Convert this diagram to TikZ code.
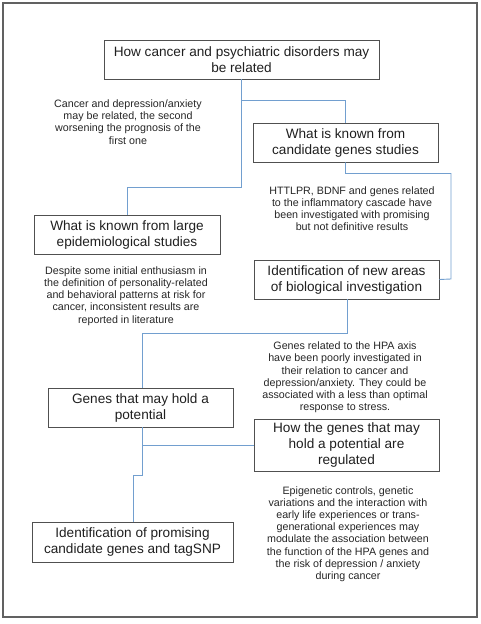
\documentclass[tikz,border=0pt]{standalone}
\usepackage{fontspec}
\setmainfont{Liberation Sans}
\usetikzlibrary{positioning}
\definecolor{linkblue}{HTML}{729FCF}
\definecolor{boxgray}{HTML}{505050}

\begin{document}
\begin{tikzpicture}[x=1pt,y=-1pt,
  main box/.style={rectangle,draw=boxgray,line width=0.9pt,align=center,inner sep=0pt,
    font=\fontsize{13.6}{16}\selectfont,text=black!88},
  note/.style={align=center,inner sep=0pt,font=\fontsize{10.7}{12.2}\selectfont,text=black!85},
  link/.style={draw=linkblue,line width=0.9pt}]

  \useasboundingbox (0,0) rectangle (481,624);
  \draw[boxgray!90,line width=1.3pt] (3,3) rectangle (477,617);

  % boxes
  \node[main box,minimum width=275pt,minimum height=39pt] (1) at (241.5,59.5)
    {How cancer and psychiatric disorders may\\be related};
  \node[main box,minimum width=185pt,minimum height=39pt] (2) at (345.5,142.5)
    {What is known from\\candidate genes studies};
  \node[main box,minimum width=186pt,minimum height=39pt] (3) at (127,234.5)
    {What is known from large\\epidemiological studies};
  \node[main box,minimum width=185pt,minimum height=39pt] (4) at (346.5,279.5)
    {Identification of new areas\\of biological investigation};
  \node[main box,minimum width=185pt,minimum height=39pt] (5) at (140.5,407.5)
    {Genes that may hold a\\potential};
  \node[main box,minimum width=185pt,minimum height=52pt] (6) at (346.5,445)
    {How the genes that may\\hold a potential are\\regulated};
  \node[main box,minimum width=201pt,minimum height=40pt] (7) at (132.5,542)
    {Identification of promising\\candidate genes and tagSNP};

  % notes
  \node[note] (t1) at (128,122)
    {Cancer and depression/anxiety\\may be related, the second\\worsening the prognosis of the\\first one};
  \node[note] (t2) at (352,208.5)
    {HTTLPR, BDNF and genes related\\to the inflammatory cascade have\\been investigated with promising\\but not definitive results};
  \node[note] (t3) at (126,296)
    {Despite some initial enthusiasm in\\the definition of personality-related\\and behavioral patterns at risk for\\cancer, inconsistent results are\\reported in literature};
  \node[note] (t4) at (345,377.5)
    {Genes related to the HPA axis\\have been poorly investigated in\\their relation to cancer and\\depression/anxiety. They could be\\associated with a less than optimal\\response to stress.};
  \node[note] (t5) at (348,534)
    {Epigenetic controls, genetic\\variations and the interaction with\\early life experiences or trans-\\generational experiences may\\modulate the association between\\the function of the HPA genes and\\the risk of depression / anxiety\\during cancer};

  % connectors
  \draw[link] (1.south) -- ++(0,21) -| (2.north);
  \draw[link] (1.south) -- ++(0,108) -| (3.north);
  \draw[link] (2.south) -- ++(0,11) -| (451,279) -- (4.east);
  \draw[link] ([xshift=0.5pt]4.south) -- ++(0,34) -| ([xshift=1.5pt]5.north);
  \draw[link] ([xshift=1.5pt]5.south) |- (6.west);
  \draw[link] ([xshift=1.5pt]5.south) -- ++(0,48) -| ([xshift=0.5pt]7.north);
\end{tikzpicture}
\end{document}
